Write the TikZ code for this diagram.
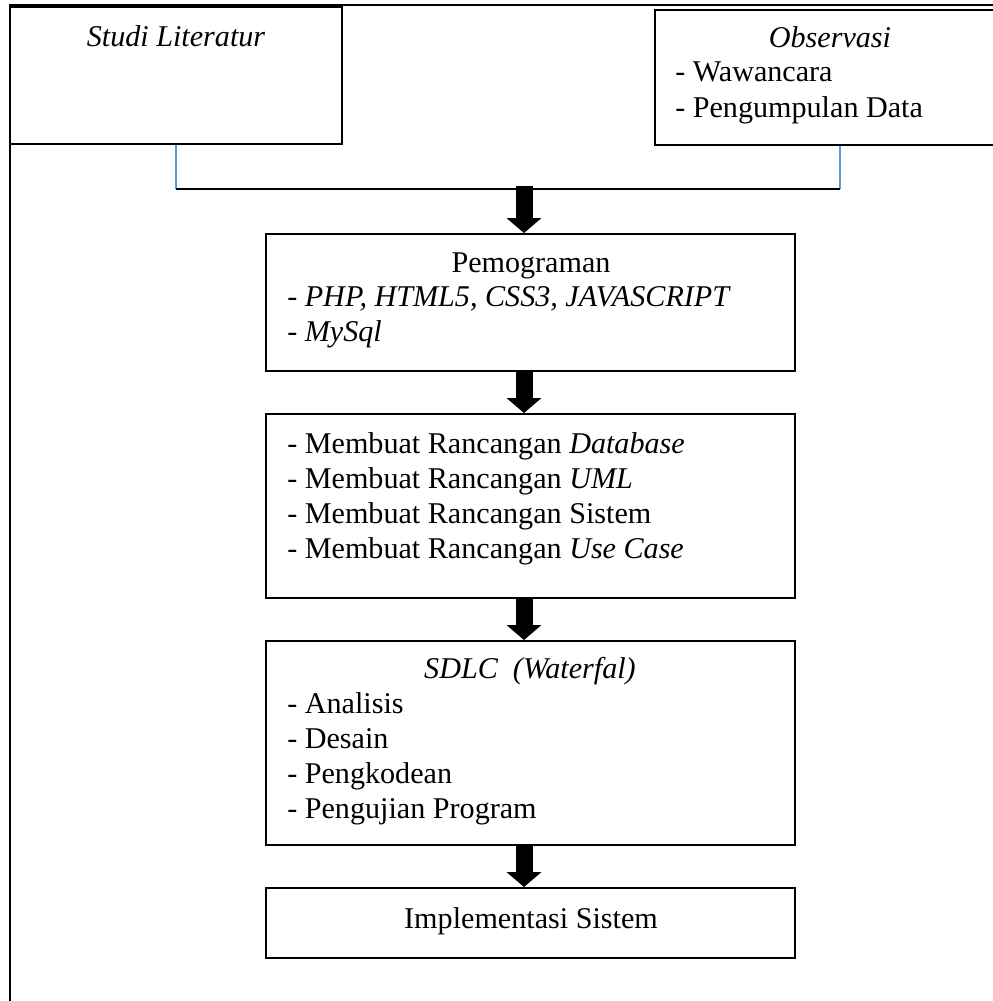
\documentclass[tikz,border=0pt]{standalone}
\usepackage{fontspec}
\setmainfont{Liberation Serif}
\usetikzlibrary{arrows.meta,calc}
\definecolor{linkblue}{HTML}{5B9BD5}
\begin{document}
\begin{tikzpicture}[x=0.75pt,y=-0.75pt,
  box/.style={draw=black,line width=1.5pt,inner sep=0pt,minimum width=396.75pt},
  txt/.style={inner sep=0pt,font=\fontsize{22.6}{26}\selectfont},
  frame/.style={draw=black,line width=1pt},
  bluelink/.style={draw=linkblue,line width=0.9pt},
  joinline/.style={draw=black,line width=0.9pt},
  blockarrow/.style={draw=black,line width=12.75pt,
    -{Triangle[width=26.25pt,length=11.25pt,line width=0pt]}}]
\useasboundingbox (0,0) rectangle (993,1001);
% outer frame
\coordinate (ftr) at (995,5);
\coordinate (ftl) at (10,5);
\coordinate (fbl) at (10,1003);
\draw[frame] (ftr) -- (ftl) -- (fbl);
% top boxes
\node[box,minimum width=249pt,minimum height=102.75pt] (s) at (176,75.5) {};
\node[box,minimum width=262.5pt,minimum height=101.25pt] (o) at (830,77.5) {};
\node[txt,anchor=base] (st) at (176,46) {\itshape Studi Literatur};
\node[txt,anchor=base] (ot) at (830,47) {\itshape Observasi};
\node[txt,anchor=base west] (o1) at (675,81) {- Wawancara};
\node[txt,anchor=base west] (o2) at (675,117) {- Pengumpulan Data};
% junction
\coordinate (jl) at (176,189);
\coordinate (jr) at (840,189);
\coordinate (ax) at (524,189);
\draw[bluelink] (s.south) -- (jl);
\draw[bluelink] (o.south -| jr) -- (jr);
\draw[joinline] (jl) -- (jr);
% main boxes
\node[box,minimum height=102.75pt] (b1) at (530.5,302.5) {};
\node[box,minimum height=138pt] (b2) at (530.5,506) {};
\node[box,minimum height=153pt] (b3) at (530.5,743) {};
\node[box,minimum height=52.5pt] (b4) at (530.5,923) {};
% texts box 1
\node[txt,anchor=base] (t10) at (531,272) {Pemograman};
\node[txt,anchor=base west] (t11) at (287,306) {- \textit{PHP, HTML5, CSS3, JAVASCRIPT}};
\node[txt,anchor=base west] (t12) at (287,341) {- \textit{MySql}};
% texts box 2
\node[txt,anchor=base west] (t21) at (287,453) {- Membuat Rancangan \textit{Database}};
\node[txt,anchor=base west] (t22) at (287,488) {- Membuat Rancangan \textit{UML}};
\node[txt,anchor=base west] (t23) at (287,523) {- Membuat Rancangan Sistem};
\node[txt,anchor=base west] (t24) at (287,558) {- Membuat Rancangan \textit{Use Case}};
% texts box 3
\node[txt,anchor=base] (t30) at (530,678) {\itshape SDLC\ \ (Waterfal)};
\node[txt,anchor=base west] (t31) at (287,713) {- Analisis};
\node[txt,anchor=base west] (t32) at (287,748) {- Desain};
\node[txt,anchor=base west] (t33) at (287,783) {- Pengkodean};
\node[txt,anchor=base west] (t34) at (287,818) {- Pengujian Program};
% texts box 4
\node[txt,anchor=base] (t40) at (531,928) {Implementasi Sistem};
% arrows
\draw[blockarrow] ([yshift=2.25pt]ax) -- (b1.north -| ax);
\draw[blockarrow] (b1.south -| ax) -- (b2.north -| ax);
\draw[blockarrow] (b2.south -| ax) -- (b3.north -| ax);
\draw[blockarrow] (b3.south -| ax) -- (b4.north -| ax);
\end{tikzpicture}
\end{document}
